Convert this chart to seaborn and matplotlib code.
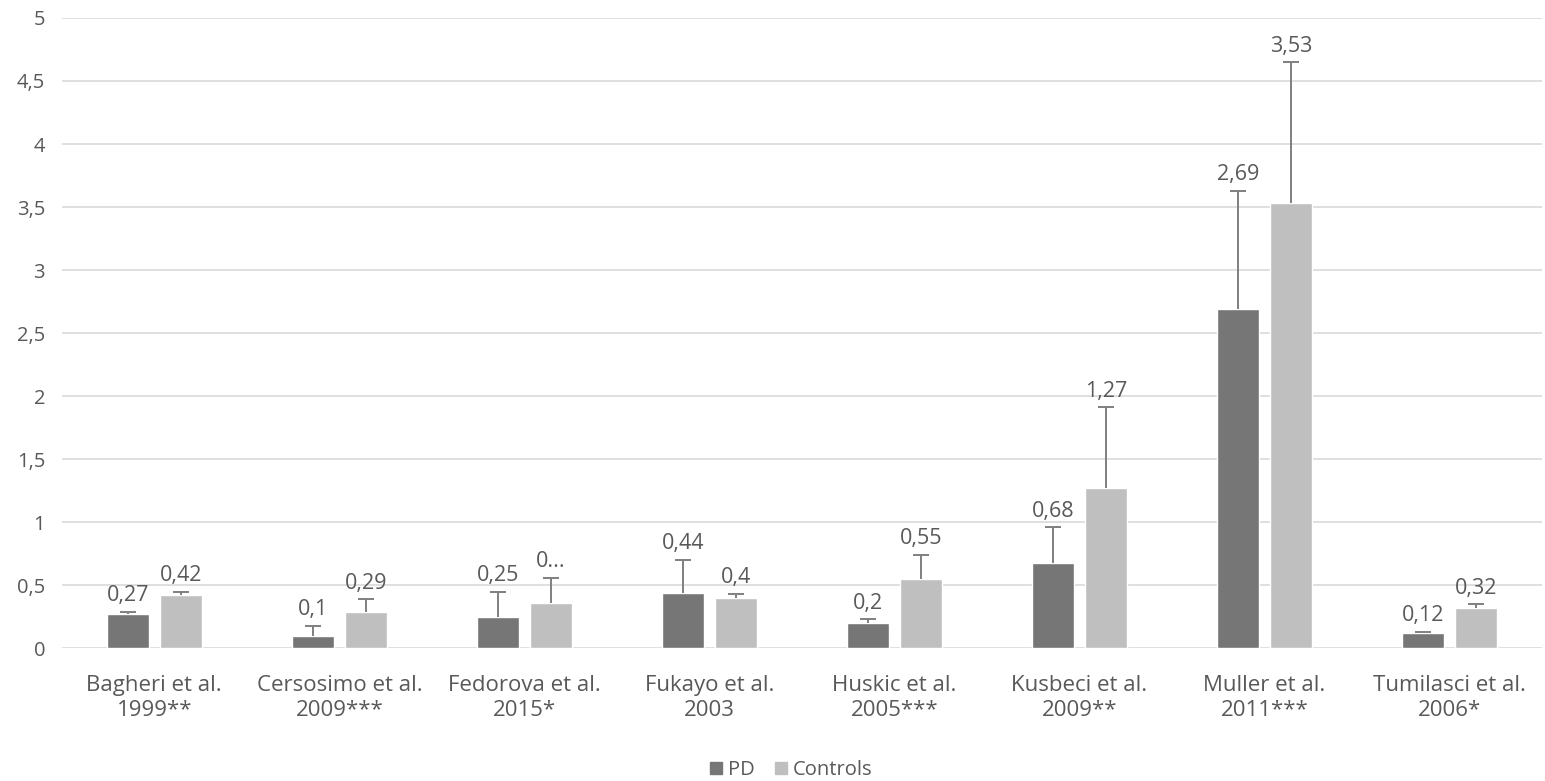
import matplotlib
matplotlib.use("Agg")
import matplotlib.pyplot as plt
import seaborn as sns
import pandas as pd

# Study labels (author, year and significance marks)
studies = [
    "Bagheri et al.\n1999**",
    "Cersosimo et al.\n2009***",
    "Fedorova et al.\n2015*",
    "Fukayo et al.\n2003",
    "Huskic et al.\n2005***",
    "Kusbeci et al.\n2009**",
    "Muller et al.\n2011***",
    "Tumilasci et al.\n2006*",
]
groups = ["PD", "Controls"]

# Mean values per study
pd_values = [0.27, 0.10, 0.25, 0.44, 0.20, 0.68, 2.69, 0.12]
control_values = [0.42, 0.29, 0.36, 0.40, 0.55, 1.27, 3.53, 0.32]

# Upper error (SD) per study
pd_errors = [0.02, 0.08, 0.20, 0.26, 0.03, 0.28, 0.94, 0.01]
control_errors = [0.03, 0.10, 0.20, 0.03, 0.19, 0.64, 1.12, 0.03]

# Value labels as printed above the bars
pd_labels = ["0,27", "0,1", "0,25", "0,44", "0,2", "0,68", "2,69", "0,12"]
control_labels = ["0,42", "0,29", "0...", "0,4", "0,55", "1,27", "3,53", "0,32"]

yticks = [0, 0.5, 1, 1.5, 2, 2.5, 3, 3.5, 4, 4.5, 5]

df = pd.DataFrame({
    "study": studies * 2,
    "group": [groups[0]] * len(studies) + [groups[1]] * len(studies),
    "value": pd_values + control_values,
})

sns.set_theme(style="white")
plt.rcParams["font.family"] = ["Open Sans", "DejaVu Sans"]

text_grey = "#595959"
grid_grey = "#d9d9d9"
err_grey = "#7f7f7f"
palette = {"PD": "#767676", "Controls": "#bfbfbf"}

fig = plt.figure(figsize=(15.45, 7.81), dpi=100)
ax = fig.add_axes([0.040, 0.170, 0.958, 0.807])

sns.barplot(data=df, x="study", y="value", hue="group", order=studies,
            hue_order=groups, palette=palette, width=0.573, gap=0.21,
            errorbar=None, saturation=1, legend=False, ax=ax)

errors = [pd_errors, control_errors]
values = [pd_values, control_values]
labels = [pd_labels, control_labels]
for container, vals, errs, labs in zip(ax.containers, values, errors, labels):
    for bar, v, e, lab in zip(container, vals, errs, labs):
        cx = bar.get_x() + bar.get_width() / 2
        eb = ax.errorbar(cx, v, yerr=[[0], [e]], fmt="none", ecolor=err_grey,
                         elinewidth=1.4, capsize=6, capthick=1.4, zorder=3)
        # one-sided error bar: keep only the upper cap
        for cap in eb.lines[1]:
            if abs(cap.get_ydata()[0] - v) < 1e-9:
                cap.set_visible(False)
        ax.annotate(lab, (cx, v + e), xytext=(0, 4), textcoords="offset points",
                    ha="center", va="bottom", fontsize=15.5, color=text_grey)

ax.set_ylim(0, 5)
ax.set_xlim(-0.5, len(studies) - 0.5)
ax.set_yticks(yticks)
ax.set_yticklabels([f"{t:g}".replace(".", ",") for t in yticks])
ax.yaxis.grid(True, color=grid_grey, linewidth=1.2)
ax.set_axisbelow(True)
for s in ax.spines.values():
    s.set_visible(False)
ax.tick_params(axis="y", length=0, pad=12, labelsize=14.5, labelcolor=text_grey)
ax.tick_params(axis="x", length=0, pad=19, labelsize=16, labelcolor=text_grey)
for t in ax.get_xticklabels():
    t.set_linespacing(1.3)
ax.set_xlabel("")
ax.set_ylabel("")

handles = [plt.Rectangle((0, 0), 1, 1, color=palette[g]) for g in groups]
fig.legend(handles, groups, loc="center", bbox_to_anchor=(0.512, 0.014),
           ncol=2, frameon=False, fontsize=14.5, labelcolor=text_grey,
           handlelength=0.6, handleheight=0.6, handletextpad=0.3,
           columnspacing=1.0, borderaxespad=0, borderpad=0)

fig.savefig("out.png", dpi=100, facecolor="white")
